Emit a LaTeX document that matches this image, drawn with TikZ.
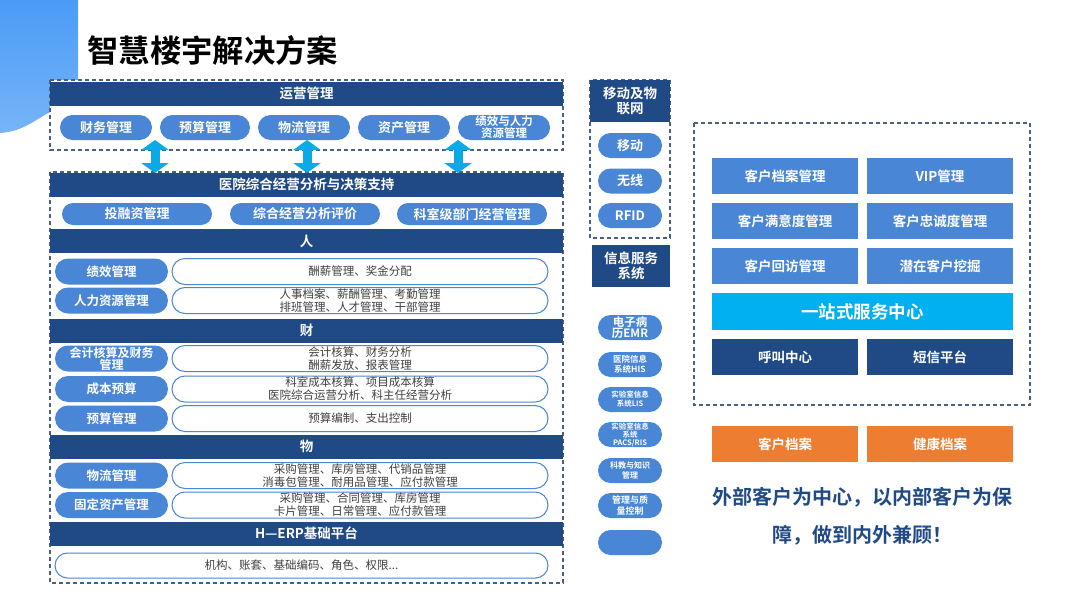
\documentclass[tikz,border=0pt]{standalone}
\usepackage{fontspec}
\setmainfont{Noto Sans CJK SC}[BoldFont={Noto Sans CJK SC Bold}]
\usetikzlibrary{arrows.meta,positioning,shapes.misc}
\definecolor{hdblue}{HTML}{1F4A86}
\definecolor{pillblue}{HTML}{4A86D6}
\definecolor{cyanbar}{HTML}{00B0F0}
\definecolor{arrowcyan}{HTML}{0AAAE8}
\definecolor{dashcol}{HTML}{4A5F82}
\definecolor{txtgray}{HTML}{404040}
\definecolor{orng}{HTML}{ED7D31}
\definecolor{cornerblue}{HTML}{4A9BF6}
\begin{document}
\begin{tikzpicture}[x=1pt,y=-1pt,
  hdr/.style={fill=hdblue,text=white,inner sep=0,align=center,minimum height=24,font=\bfseries\fontsize{13.5}{15}\selectfont},
  pill/.style={rounded rectangle,fill=pillblue,text=white,inner sep=0,align=center,minimum height=25,font=\bfseries\fontsize{13}{14}\selectfont},
  desc/.style={rounded rectangle,draw=pillblue,line width=1,fill=white,text=txtgray,inner sep=0,align=center,minimum width=376,minimum height=26,font=\fontsize{11.5}{13}\selectfont},
  sq/.style={fill=pillblue,text=white,inner sep=0,minimum width=146,minimum height=36,font=\bfseries\fontsize{13.5}{15}\selectfont},
  frame/.style={draw=dashcol,line width=1.1,dash pattern=on 4pt off 3pt,fill=white},
  dbl/.style={{Triangle[width=27pt,length=10pt]}-{Triangle[width=27pt,length=10pt]},line width=9pt,draw=arrowcyan}]
\useasboundingbox (0,0) rectangle (1080,608);
\shade[top color=cornerblue,bottom color=cornerblue!75!white] (0,0) -- (78,0) -- (78,106) .. controls (45,104) and (35,131) .. (0,133) -- cycle;
\node[anchor=west,font=\bfseries\fontsize{31.3}{34}\selectfont] (title) at (84,50) {智慧楼宇解决方案};

\draw[frame] (50,80) rectangle (563,150);
\draw[frame] (50,172) rectangle (563,583);
\draw[frame] (590,80) rectangle (670,238);
\draw[frame] (694,123) rectangle (1030,405);

\node[hdr,minimum width=513] (ops) at (306.5,93.5) {运营管理};
\node[pill,minimum width=92] (o1) at (106,127.5) {财务管理};
\node[pill,minimum width=90] (o2) at (205,127.5) {预算管理};
\node[pill,minimum width=92] (o3) at (304,127.5) {物流管理};
\node[pill,minimum width=92] (o4) at (404,127.5) {资产管理};
\node[pill,minimum width=92,font=\bfseries\fontsize{11.5}{12}\selectfont] (o5) at (504,127.5) {绩效与人力\\资源管理};

\node[hdr,minimum width=513] (dec) at (306.5,184.5) {医院综合经营分析与决策支持};
\node[pill,minimum width=150,minimum height=22] (d1) at (137,214) {投融资管理};
\node[pill,minimum width=150,minimum height=22] (d2) at (305,214) {综合经营分析评价};
\node[pill,minimum width=150,minimum height=22] (d3) at (472,214) {科室级部门经营管理};

\foreach \ax [count=\i] in {155,307,458}{
  \coordinate (up\i) at (\ax,140);
  \coordinate (dn\i) at (\ax,173);
  \draw[dbl] (up\i) -- (dn\i);
}

\node[hdr,minimum width=513] (ren) at (306.5,241) {人};
\node[pill,minimum width=113,minimum height=26,font=\bfseries\fontsize{12.5}{14}\selectfont] (r1) at (111.5,271.5) {绩效管理};
\node[desc] (r1d) at (360,271.5) {酬薪管理、奖金分配};
\node[pill,minimum width=113,minimum height=26,font=\bfseries\fontsize{12.5}{14}\selectfont] (r2) at (111.5,300.5) {人力资源管理};
\node[desc] (r2d) at (360,300.5) {人事档案、薪酬管理、考勤管理\\排班管理、人才管理、干部管理};

\node[hdr,minimum width=513] (cai) at (306.5,330.5) {财};
\node[pill,minimum width=113,minimum height=26,font=\bfseries\fontsize{12}{12}\selectfont] (c1) at (111.5,358.5) {会计核算及财务\\管理};
\node[desc] (c1d) at (360,358.5) {会计核算、财务分析\\酬薪发放、报表管理};
\node[pill,minimum width=113,minimum height=26,font=\bfseries\fontsize{12.5}{14}\selectfont] (c2) at (111.5,389) {成本预算};
\node[desc] (c2d) at (360,389) {科室成本核算、项目成本核算\\医院综合运营分析、科主任经营分析};
\node[pill,minimum width=113,minimum height=26,font=\bfseries\fontsize{12.5}{14}\selectfont] (c3) at (111.5,418.5) {预算管理};
\node[desc] (c3d) at (360,418.5) {预算编制、支出控制};

\node[hdr,minimum width=513] (wu) at (306.5,446.5) {物};
\node[pill,minimum width=113,minimum height=26,font=\bfseries\fontsize{12.5}{14}\selectfont] (w1) at (111.5,475.5) {物流管理};
\node[desc] (w1d) at (360,475.5) {采购管理、库房管理、代销品管理\\消毒包管理、耐用品管理、应付款管理};
\node[pill,minimum width=113,minimum height=26,font=\bfseries\fontsize{12.5}{14}\selectfont] (w2) at (111.5,505) {固定资产管理};
\node[desc] (w2d) at (360,505) {采购管理、合同管理、库房管理\\卡片管理、日常管理、应付款管理};

\node[hdr,minimum width=513] (erp) at (306.5,533.5) {H—ERP基础平台};
\node[desc,minimum width=493,minimum height=25] (erpd) at (301.5,565.5) {机构、账套、基础编码、角色、权限...};

\node[hdr,minimum width=80,minimum height=42] (mob) at (630,101) {移动及物\\联网};
\node[pill,minimum width=64] (m1) at (630,145.5) {移动};
\node[pill,minimum width=64] (m2) at (630,181) {无线};
\node[pill,minimum width=64] (m3) at (630,215.5) {RFID};

\node[hdr,minimum width=78,minimum height=42] (info) at (631,266) {信息服务\\系统};
\node[pill,minimum width=64,font=\bfseries\fontsize{11.5}{11.5}\selectfont] (s1) at (630,327.5) {电子病\\历EMR};
\node[pill,minimum width=64,font=\bfseries\fontsize{8.5}{10}\selectfont] (s2) at (630,364.5) {医院信息\\系统HIS};
\node[pill,minimum width=64,font=\bfseries\fontsize{7.5}{9}\selectfont] (s3) at (630,399.5) {实验室信息\\系统LIS};
\node[pill,minimum width=64,font=\bfseries\fontsize{7.5}{8}\selectfont] (s4) at (630,434.5) {实验室信息\\系统\\PACS/RIS};
\node[pill,minimum width=64,font=\bfseries\fontsize{8}{10}\selectfont] (s5) at (630,470.5) {科教与知识\\管理};
\node[pill,minimum width=64,font=\bfseries\fontsize{9}{11}\selectfont] (s6) at (630,505.5) {管理与质\\量控制};
\node[pill,minimum width=64] (s7) at (630,542.5) {};

\node[sq] (k1) at (785,176) {客户档案管理};
\node[sq] (k2) at (940,176) {VIP管理};
\node[sq] (k3) at (785,221) {客户满意度管理};
\node[sq] (k4) at (940,221) {客户忠诚度管理};
\node[sq] (k5) at (785,266) {客户回访管理};
\node[sq] (k6) at (940,266) {潜在客户挖掘};
\node[sq,fill=cyanbar,minimum width=301,minimum height=37,font=\bfseries\fontsize{17.5}{19}\selectfont] (hub) at (862.5,311.5) {一站式服务中心};
\node[sq,fill=hdblue] (call) at (785,357) {呼叫中心};
\node[sq,fill=hdblue] (sms) at (940,357) {短信平台};

\node[sq,fill=orng] (f1) at (785,444) {客户档案};
\node[sq,fill=orng] (f2) at (940,444) {健康档案};
\node[text=hdblue,align=center,font=\bfseries\fontsize{20}{38}\selectfont] (motto) at (862,516) {外部客户为中心，以内部客户为保\\障，做到内外兼顾！};
\end{tikzpicture}
\end{document}
